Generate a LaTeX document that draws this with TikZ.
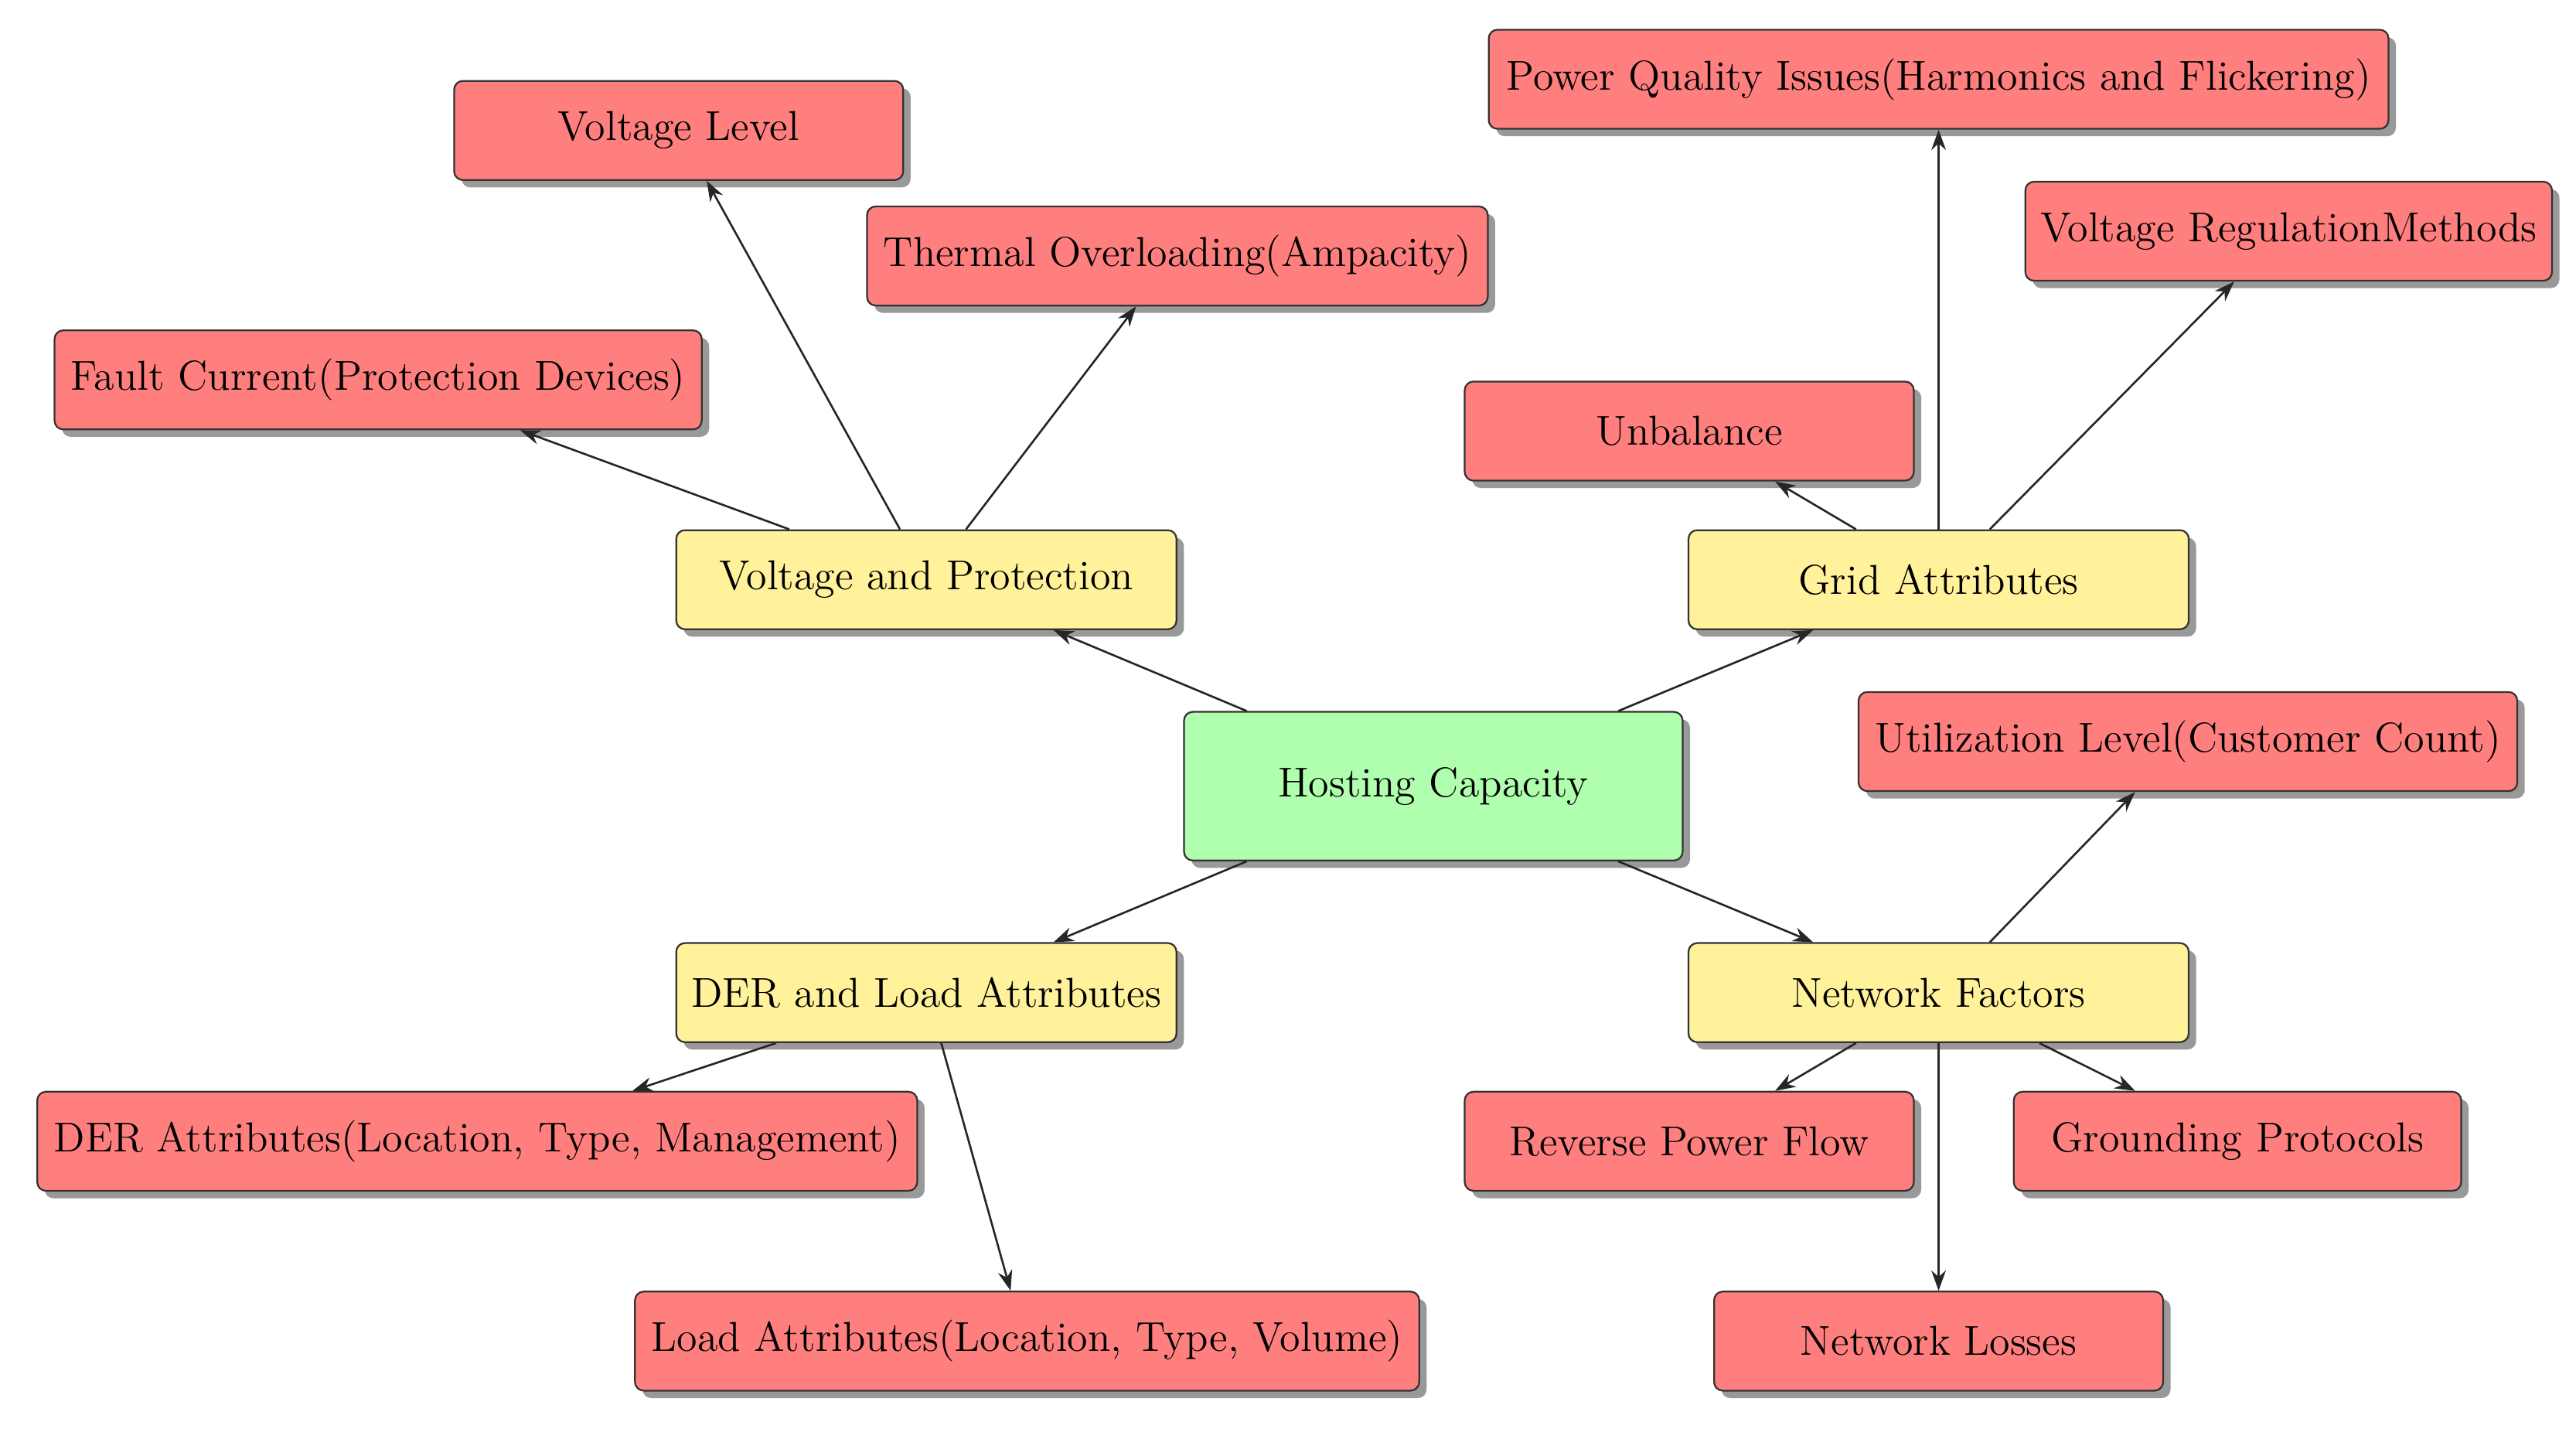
\documentclass[tikz,border=0pt]{standalone}
\usetikzlibrary{calc,shadows,arrows.meta}
\definecolor{redf}{HTML}{FF7F7F}
\definecolor{yelf}{HTML}{FFF29A}
\definecolor{grnf}{HTML}{AFFFAF}
\begin{document}
\begin{tikzpicture}[x=0.02cm,y=-0.02cm,
  box/.style={draw=black!80,rounded corners=3pt,line width=0.6pt,minimum height=1.2cm,
    font=\fontsize{14.4}{17}\selectfont,inner sep=2pt,
    drop shadow={shadow xshift=0.09cm,shadow yshift=-0.09cm,fill=black!40,opacity=1}},
  red/.style={box,fill=redf},
  yel/.style={box,fill=yelf,minimum width=6.06cm},
  arr/.style={-{Stealth[length=7pt,width=5pt]},line width=0.7pt,black!85}]
\useasboundingbox (0,0) rectangle (1560,865);
\node[box,fill=grnf,minimum width=6.04cm,minimum height=1.8cm] (h) at (868,476) {Hosting Capacity};
\node[yel] (vp) at (561,351) {Voltage and Protection};
\node[yel] (ga) at (1174,351) {Grid Attributes};
\node[yel] (dl) at (561,601) {DER and Load Attributes};
\node[yel] (nf) at (1174,601) {Network Factors};
\node[red,minimum width=5.44cm] (vl) at (411,79) {Voltage Level};
\node[red,minimum width=7.52cm] (to) at (713,155) {Thermal Overloading(Ampacity)};
\node[red,minimum width=7.84cm] (fc) at (229,230) {Fault Current(Protection Devices)};
\node[red,minimum width=10.9cm] (pq) at (1174,48) {Power Quality Issues(Harmonics and Flickering)};
\node[red,minimum width=6.38cm] (vr) at (1386,140) {Voltage RegulationMethods};
\node[red,minimum width=5.44cm] (ub) at (1023,261) {Unbalance};
\node[red,minimum width=7.98cm] (ul) at (1325,449) {Utilization Level(Customer Count)};
\node[red,minimum width=10.66cm] (da) at (289,691) {DER Attributes(Location, Type, Management)};
\node[red,minimum width=9.5cm] (la) at (622,812) {Load Attributes(Location, Type, Volume)};
\node[red,minimum width=5.44cm] (rp) at (1023,691) {Reverse Power Flow};
\node[red,minimum width=5.42cm] (gp) at (1355,691) {Grounding Protocols};
\node[red,minimum width=5.44cm] (nl) at (1174,812) {Network Losses};
\draw[arr] ($(h.north)+(-113,0)$) -- ($(vp.south)+(77,0)$);
\draw[arr] ($(h.north)+(112,0)$) -- ($(ga.south)+(-76,0)$);
\draw[arr] ($(h.south)+(-113,0)$) -- ($(dl.north)+(77,0)$);
\draw[arr] ($(h.south)+(112,0)$) -- ($(nf.north)+(-76,0)$);
\draw[arr] ($(vp.north)+(-83,0)$) -- ($(fc.south)+(86,0)$);
\draw[arr] ($(vp.north)+(-16,0)$) -- ($(vl.south)+(17,0)$);
\draw[arr] ($(vp.north)+(24,0)$) -- ($(to.south)+(-25,0)$);
\draw[arr] ($(ga.north)+(-50,0)$) -- ($(ub.south)+(52,0)$);
\draw[arr] (ga.north) -- (pq.south);
\draw[arr] ($(ga.north)+(31,0)$) -- ($(vr.south)+(-33,0)$);
\draw[arr] ($(dl.south)+(-91,0)$) -- ($(da.north)+(94,0)$);
\draw[arr] ($(dl.south)+(9,0)$) -- ($(la.north)+(-10,0)$);
\draw[arr] ($(nf.north)+(31,0)$) -- ($(ul.south)+(-32,0)$);
\draw[arr] ($(nf.south)+(-50,0)$) -- ($(rp.north)+(52,0)$);
\draw[arr] (nf.south) -- (nl.north);
\draw[arr] ($(nf.south)+(61,0)$) -- ($(gp.north)+(-62,0)$);
\end{tikzpicture}
\end{document}
